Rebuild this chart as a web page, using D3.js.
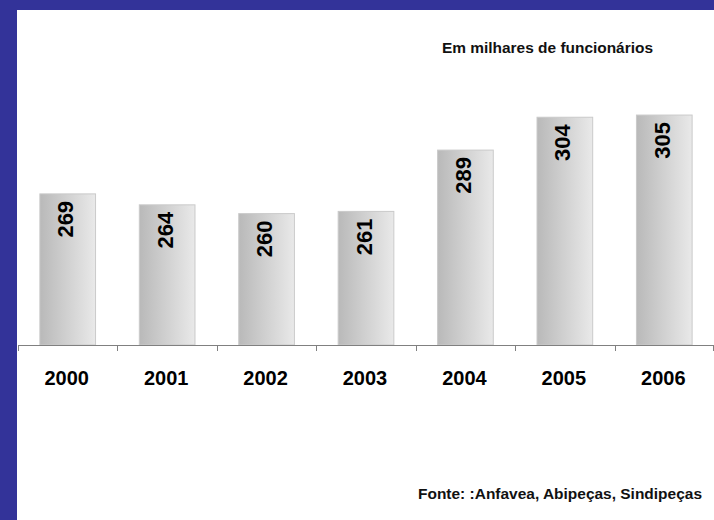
<!DOCTYPE html>
<html>
<head>
<meta charset="utf-8">
<script src="https://cdn.jsdelivr.net/npm/d3@7"></script>
<style>
  body { margin: 0; background: #333399; }
  svg { display: block; }
</style>
</head>
<body>
<div id="chart"></div>
<script>
// data
var years = ["2000", "2001", "2002", "2003", "2004", "2005", "2006"];
var employees = [269, 264, 260, 261, 289, 304, 305];
var unitNote = "Em milhares de funcionários";
var sourceNote = "Fonte: :Anfavea, Abipeças, Sindipeças";

var svgWidth = 714;
var svgHeight = 520;

var svg = d3.select("#chart")
  .append("svg")
  .attr("width", svgWidth)
  .attr("height", svgHeight);

// blue frame, white panel
svg.append("rect")
  .attr("width", svgWidth)
  .attr("height", svgHeight)
  .attr("fill", "#333399");

svg.append("rect")
  .attr("x", 17)
  .attr("y", 10)
  .attr("width", svgWidth - 17)
  .attr("height", svgHeight - 10)
  .attr("fill", "#ffffff");

// gradient for the bars
var grad = svg.append("defs").append("linearGradient")
  .attr("id", "barGrad")
  .attr("x1", "0%").attr("x2", "100%")
  .attr("y1", "0%").attr("y2", "0%");
grad.append("stop").attr("offset", "0%").attr("stop-color", "#b9b9b9");
grad.append("stop").attr("offset", "100%").attr("stop-color", "#e9e9e9");

var baseY = 345;

// scales
var xScale = d3.scaleBand()
  .domain(years)
  .range([18, 714])
  .paddingInner(0.44)
  .paddingOuter(0.22);

var yScale = d3.scaleLinear()
  .domain([200, 320])
  .range([baseY, baseY - 120 * 2.19]);

// bars
svg.append("g").selectAll("rect")
  .data(years)
  .enter()
  .append("rect")
  .attr("x", d => xScale(d))
  .attr("y", (d, i) => yScale(employees[i]))
  .attr("width", xScale.bandwidth())
  .attr("height", (d, i) => baseY - yScale(employees[i]))
  .attr("fill", "url(#barGrad)")
  .attr("stroke", "#cacaca")
  .attr("stroke-width", 1);

// value labels, rotated inside the bars
svg.append("g").selectAll("text")
  .data(years)
  .enter()
  .append("text")
  .attr("transform", (d, i) =>
    `translate(${xScale(d) + xScale.bandwidth() / 2 - 2}, ${yScale(employees[i]) + 7}) rotate(-90)`)
  .attr("text-anchor", "end")
  .attr("dominant-baseline", "central")
  .attr("font-family", "'Liberation Sans', Arial, sans-serif")
  .attr("font-size", "22px")
  .attr("font-weight", "bold")
  .attr("fill", "#000")
  .text((d, i) => employees[i]);

// x axis: line with ticks at band boundaries
var step = xScale.step();
var x0 = xScale.range()[0];

svg.append("line")
  .attr("x1", x0)
  .attr("x2", 714)
  .attr("y1", baseY + 0.5)
  .attr("y2", baseY + 0.5)
  .attr("stroke", "#808080")
  .attr("stroke-width", 1.2);

svg.append("g").selectAll("line")
  .data(d3.range(years.length + 1))
  .enter()
  .append("line")
  .attr("x1", d => Math.min(Math.round(x0 + d * step) + 0.5, 713.5))
  .attr("x2", d => Math.min(Math.round(x0 + d * step) + 0.5, 713.5))
  .attr("y1", baseY)
  .attr("y2", baseY + 6)
  .attr("stroke", "#808080")
  .attr("stroke-width", 1);

svg.append("g").selectAll("text")
  .data(years)
  .enter()
  .append("text")
  .attr("x", d => xScale(d) + xScale.bandwidth() / 2 - 1)
  .attr("y", 385)
  .attr("text-anchor", "middle")
  .attr("font-family", "'Liberation Sans', Arial, sans-serif")
  .attr("font-size", "20px")
  .attr("font-weight", "bold")
  .attr("fill", "#000")
  .text(d => d);

// notes
svg.append("text")
  .attr("x", 442)
  .attr("y", 53)
  .attr("textLength", 211)
  .attr("lengthAdjust", "spacingAndGlyphs")
  .attr("font-family", "'Liberation Sans Narrow', 'Liberation Sans', Arial, sans-serif")
  .attr("font-size", "15px")
  .attr("font-weight", "bold")
  .attr("fill", "#111")
  .text(unitNote);

svg.append("text")
  .attr("x", 418)
  .attr("y", 499)
  .attr("textLength", 284)
  .attr("lengthAdjust", "spacingAndGlyphs")
  .attr("font-family", "'Liberation Sans Narrow', 'Liberation Sans', Arial, sans-serif")
  .attr("font-size", "15px")
  .attr("font-weight", "bold")
  .attr("fill", "#111")
  .text(sourceNote);
</script>
</body>
</html>
